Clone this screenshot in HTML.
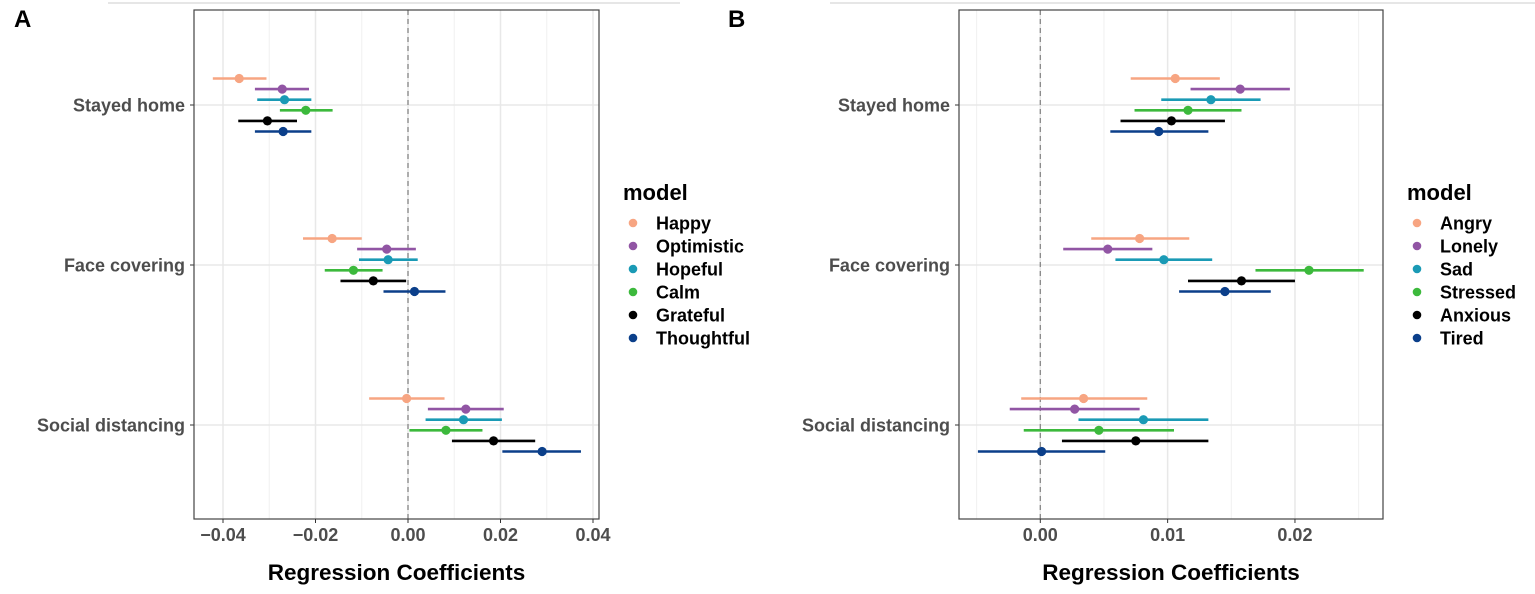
<!DOCTYPE html>
<html><head><meta charset="utf-8"><style>
body{margin:0;background:#fff;}
svg text{font-family:"Liberation Sans",sans-serif;font-weight:bold;}
</style></head><body>
<svg id="chart" width="1535" height="589" viewBox="0 0 1535 589" xmlns="http://www.w3.org/2000/svg">
<line x1="108" y1="3" x2="680" y2="3" stroke="#e6e6e6" stroke-width="2"/>
<line x1="830" y1="3" x2="1535" y2="3" stroke="#e6e6e6" stroke-width="2"/>
<text x="14" y="27" font-size="24" fill="#000">A</text>
<text x="728" y="27" font-size="24" fill="#000">B</text>
</svg>
<script>
const categories = ["Stayed home","Face covering","Social distancing"];
const modelsA = ["Happy","Optimistic","Hopeful","Calm","Grateful","Thoughtful"];
const modelsB = ["Angry","Lonely","Sad","Stressed","Anxious","Tired"];
const colors = ["#f7a582","#9155a4","#1a9ab5","#3cb93c","#000000","#0b3f8a"];
const estA = [[-0.0365,-0.0272,-0.0267,-0.0221,-0.0304,-0.0270],[-0.0164,-0.0046,-0.0043,-0.0118,-0.0075,0.0014],[-0.0003,0.0125,0.0120,0.0082,0.0185,0.0290]];
const lowA = [[-0.0422,-0.0331,-0.0326,-0.0277,-0.0367,-0.0331],[-0.0227,-0.0110,-0.0106,-0.0180,-0.0146,-0.0053],[-0.0084,0.0043,0.0038,0.0003,0.0095,0.0204]];
const highA = [[-0.0306,-0.0214,-0.0209,-0.0163,-0.0240,-0.0209],[-0.0100,0.0017,0.0021,-0.0055,-0.0004,0.0081],[0.0079,0.0207,0.0203,0.0161,0.0275,0.0374]];
const estB = [[0.0106,0.0157,0.0134,0.0116,0.0103,0.0093],[0.0078,0.0053,0.0097,0.0211,0.0158,0.0145],[0.0034,0.0027,0.0081,0.0046,0.0075,0.0001]];
const lowB = [[0.0071,0.0118,0.0095,0.0074,0.0063,0.0055],[0.0040,0.0018,0.0059,0.0169,0.0116,0.0109],[-0.0015,-0.0024,0.0030,-0.0013,0.0017,-0.0049]];
const highB = [[0.0141,0.0196,0.0173,0.0158,0.0145,0.0132],[0.0117,0.0088,0.0135,0.0254,0.0200,0.0181],[0.0084,0.0078,0.0132,0.0105,0.0132,0.0051]];
const ticksA = [-0.04,-0.02,0,0.02,0.04];
const tickLabelsA = ["\u22120.04","\u22120.02","0.00","0.02","0.04"];
const minorA = [-0.03,-0.01,0.01,0.03];
const ticksB = [0,0.01,0.02];
const tickLabelsB = ["0.00","0.01","0.02"];
const minorB = [-0.005,0.005,0.015,0.025];

const svg = document.getElementById('chart');
const NS = "http://www.w3.org/2000/svg";
function mk(tag, attrs, parent){const e=document.createElementNS(NS,tag);for(const k in attrs)e.setAttribute(k,attrs[k]);(parent||svg).appendChild(e);return e;}

function panel(id, left, right, x0, scale, models, est, low, high, ticks, tickLabels, minor){
  const top=10, bottom=519;
  const xs = v => x0 + v*scale;
  const ys = i => 105 + i*160;
  const g = mk('g',{});
  
  
  minor.forEach(v=>{const l=mk('line',{x1:xs(v),x2:xs(v),y1:top,y2:bottom,stroke:'#f0f0f0','stroke-width':1},g);
    
    });
  ticks.forEach(v=>{const l=mk('line',{x1:xs(v),x2:xs(v),y1:top,y2:bottom,stroke:'#e8e8e8','stroke-width':1.5},g);
    
    });
  categories.forEach((c,i)=>{const l=mk('line',{x1:left,x2:right,y1:ys(i),y2:ys(i),stroke:'#e8e8e8','stroke-width':1.5},g);
    
    });
  const z=mk('line',{x1:xs(0),x2:xs(0),y1:top,y2:bottom,stroke:'#888','stroke-width':1.3,'stroke-dasharray':'5,4'},g);
  
  
  categories.forEach((c,i)=>{
    models.forEach((m,j)=>{
      const y = ys(i) + (j-2.5)*10.6;
      const l=mk('line',{x1:xs(low[i][j]),x2:xs(high[i][j]),y1:y,y2:y,stroke:colors[j],'stroke-width':2.6},g);
      
      
      const p=mk('circle',{cx:xs(est[i][j]),cy:y,r:4.6,fill:colors[j]},g);
      
      
    });
    const t=mk('text',{x:left-9,y:ys(i)+6.5,'text-anchor':'end','font-size':18,fill:'#4d4d4d'},g);
    t.textContent=c;
    
    
    const tk=mk('line',{x1:left-4,x2:left,y1:ys(i),y2:ys(i),stroke:'#333','stroke-width':1},g);
    
    
  });
  const b=mk('rect',{x:left,y:top,width:right-left,height:bottom-top,fill:'none',stroke:'#444','stroke-width':1.2},g);
  
  
  ticks.forEach((v,k)=>{
    const tk=mk('line',{x1:xs(v),x2:xs(v),y1:bottom,y2:bottom+4,stroke:'#333','stroke-width':1},g);
    
    
    const t=mk('text',{x:xs(v),y:bottom+22,'text-anchor':'middle','font-size':18,fill:'#4d4d4d'},g);
    t.textContent=tickLabels[k];
    
    
  });
  const at=mk('text',{x:(left+right)/2,y:580,'text-anchor':'middle','font-size':22.5,fill:'#000'},g);
  at.textContent='Regression Coefficients';
  
  
  const lx = right + 24;
  const lt=mk('text',{x:lx,y:200,'font-size':22,fill:'#000'},g);
  lt.textContent='model';
  
  
  models.forEach((m,j)=>{
    const cy=223+j*23;
    const c=mk('circle',{cx:lx+10,cy:cy,r:4.3,fill:colors[j]},g);
    
    
    const t=mk('text',{x:lx+33,y:cy+6.5,'font-size':18,fill:'#000'},g);
    t.textContent=m;
    
    
  });
}
panel('panel-a',194,599,408,4625,modelsA,estA,lowA,highA,ticksA,tickLabelsA,minorA);
panel('panel-b',959,1383,1040.3,12733,modelsB,estB,lowB,highB,ticksB,tickLabelsB,minorB);
</script>
</body></html>
